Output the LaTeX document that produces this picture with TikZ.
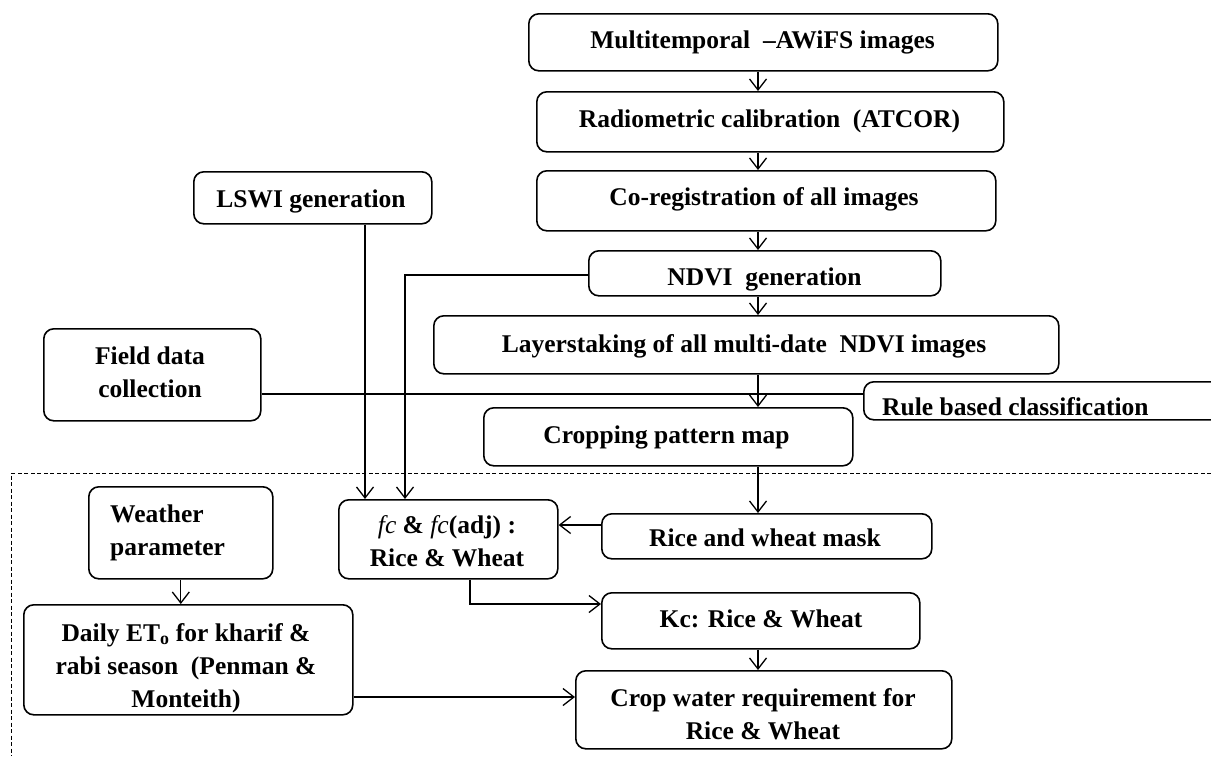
\documentclass[tikz,border=0pt]{standalone}
\usepackage{fontspec}
\setmainfont{Liberation Serif}
\usetikzlibrary{arrows.meta}
\begin{document}
\begin{tikzpicture}[x=1pt,y=-1pt,
  box/.style={draw, line width=1.6pt, rounded corners=10pt, inner sep=0pt, anchor=north west},
  txt/.style={font=\fontsize{25.5}{33}\selectfont\bfseries, inner sep=0pt, align=center, anchor=base},
  arr/.style={line width=1.3pt, -{Straight Barb[length=11pt,width=17pt,line width=1.3pt]}},
  conn/.style={line width=1.3pt},
  frame/.style={line width=1pt, dash pattern=on 4pt off 2.5pt}]
\useasboundingbox (0,0) rectangle (1211,756);
\clip (0,0) rectangle (1211,756);

% boxes
\node[box, minimum width=469pt, minimum height=57pt] (multi) at (528,13) {};
\node[box, minimum width=467pt, minimum height=60pt] (radio) at (536,91) {};
\node[box, minimum width=459pt, minimum height=60pt] (coreg) at (536,170) {};
\node[box, minimum width=352pt, minimum height=45pt] (ndvi) at (588,250) {};
\node[box, minimum width=625pt, minimum height=58pt] (layer) at (433,315) {};
\node[box, minimum width=369pt, minimum height=58pt] (crop) at (483,407) {};
\node[box, minimum width=420pt, minimum height=38pt] (rule) at (863,381) {};
\node[box, minimum width=238pt, minimum height=52pt] (lswi) at (193,171) {};
\node[box, minimum width=217pt, minimum height=92pt] (field) at (43,328) {};
\node[box, minimum width=184pt, minimum height=92pt] (weather) at (88,486) {};
\node[box, minimum width=219pt, minimum height=79pt] (fc) at (338,499) {};
\node[box, minimum width=330pt, minimum height=45pt] (mask) at (601,513) {};
\node[box, minimum width=318pt, minimum height=56pt] (kc) at (601,592) {};
\node[box, minimum width=376pt, minimum height=78pt] (water) at (575,670) {};
\node[box, minimum width=329pt, minimum height=110pt] (daily) at (23,604) {};

% texts (anchor=base is the baseline of the last line)
\node[txt] (multi-t) at (762.5,48) {Multitemporal\ \ --AWiFS images};
\node[txt] (radio-t) at (769.5,127) {Radiometric calibration\ \ (ATCOR)};
\node[txt] (coreg-t) at (764,205) {Co-registration of all images};
\node[txt] (ndvi-t) at (764.5,285) {NDVI\ \ generation};
\node[txt] (layer-t) at (744,352) {Layerstaking of all multi-date\ \ NDVI images};
\node[txt] (crop-t) at (666.5,443) {Cropping pattern map};
\node[txt, anchor=base west] (rule-t) at (882,415) {Rule based classification};
\node[txt] (lswi-t) at (311,207) {LSWI generation};
\node[txt] (field-t) at (150,397) {Field data\\collection};
\node[txt, anchor=base west, align=left] (weather-t) at (110,555) {Weather\\parameter};
\node[txt] (fc-t) at (447,566) {{\mdseries\itshape fc} \& {\mdseries\itshape fc}(adj) :\\Rice \& Wheat};
\node[txt] (mask-t) at (765,546) {Rice and wheat mask};
\node[txt] (kc-t) at (761,627) {Kc: Rice \& Wheat};
\node[txt] (water-t) at (763,739) {Crop water requirement for\\Rice \& Wheat};
\node[txt] (daily-t) at (186,707) {Daily ET\textsubscript{o} for kharif \&\\rabi season\ \ (Penman \&\\Monteith)};

% helper coordinates
\coordinate (c758) at (758,0);
\coordinate (c365) at (365,0);
\coordinate (c405) at (405,0);
\coordinate (c470) at (470,0);
\coordinate (r275) at (0,275);
\coordinate (r394) at (0,394);
\coordinate (r525) at (0,525);
\coordinate (r604) at (0,604);
\coordinate (r697) at (0,697);

% connectors
\draw[arr] (multi.south -| c758) -- (radio.north -| c758);
\draw[arr] (radio.south -| c758) -- (coreg.north -| c758);
\draw[arr] (coreg.south -| c758) -- (ndvi.north -| c758);
\draw[arr] (ndvi.south -| c758) -- (layer.north -| c758);
\draw[arr] (layer.south -| c758) -- (crop.north -| c758);
\draw[arr] (crop.south -| c758) -- (mask.north -| c758);
\draw[arr] (kc.south -| c758) -- (water.north -| c758);
\draw[arr] (lswi.south -| c365) -- (fc.north -| c365);
\draw[arr] (ndvi.west |- r275) -| (fc.north -| c405);
\draw[conn] (field.east |- r394) -- (rule.west |- r394);
\draw[arr] (mask.west |- r525) -- (fc.east |- r525);
\draw[arr] (fc.south -| c470) |- (kc.west |- r604);
\draw[arr] (weather.south) -- (weather.south |- daily.north);
\draw[arr] (daily.east |- r697) -- (water.west |- r697);

% dashed frame
\draw[frame] (1211,473) -- (11,473) -- (11,756);
\end{tikzpicture}
\end{document}
